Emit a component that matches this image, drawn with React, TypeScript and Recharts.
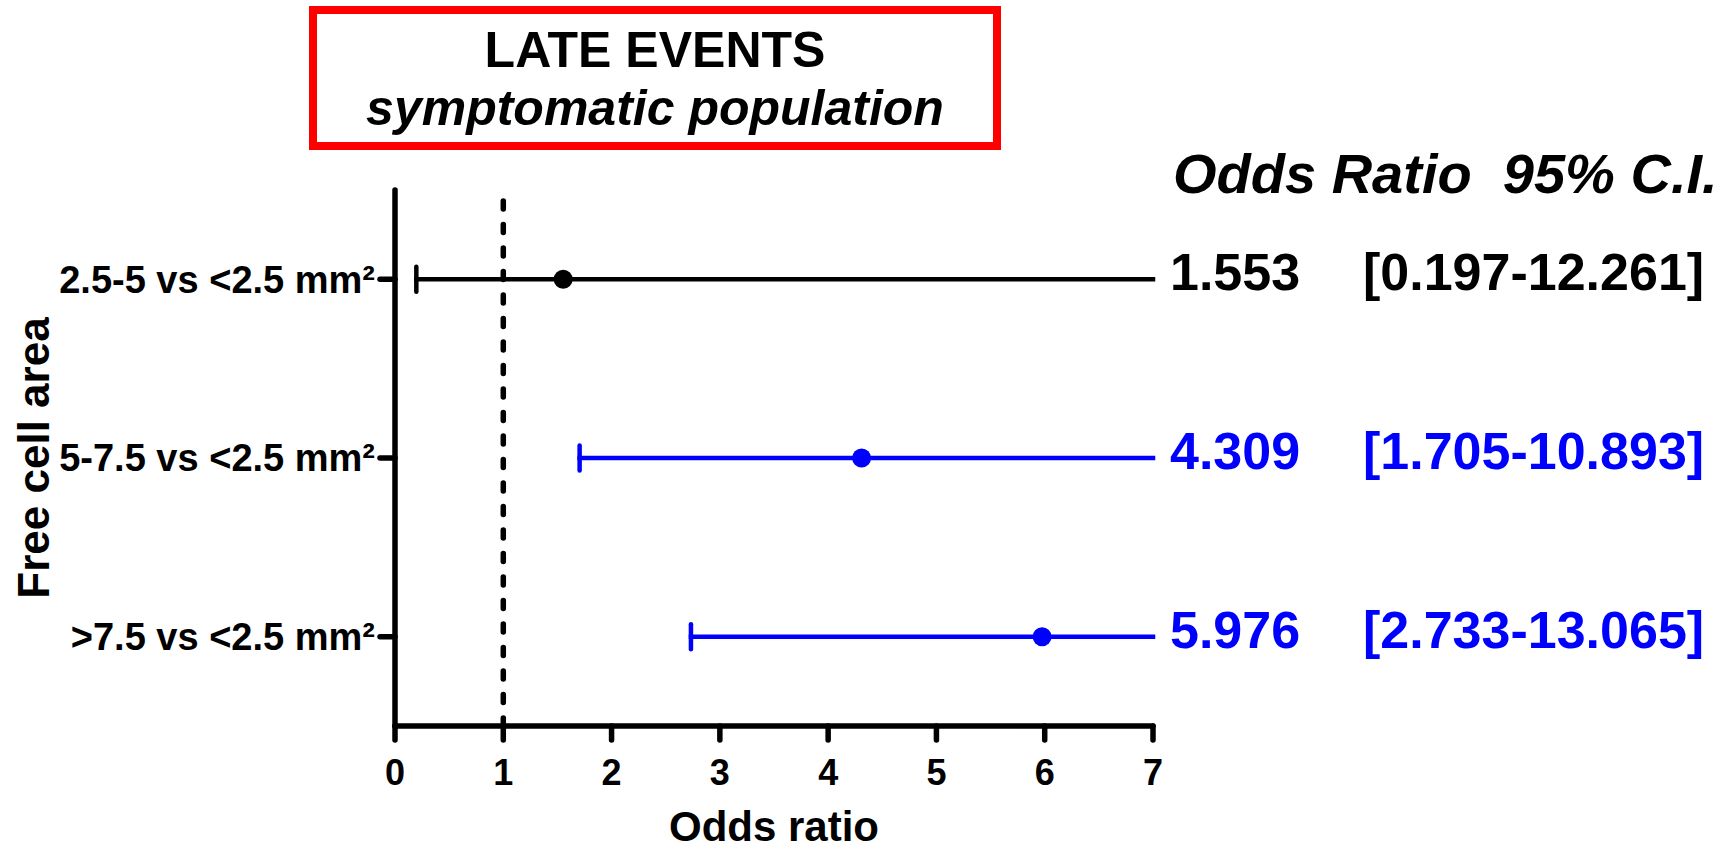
import React from "react";
import { ScatterChart, Scatter, XAxis, YAxis, ReferenceLine } from "recharts";

// ---- data ----
const categories = ["2.5-5 vs <2.5 mm²", "5-7.5 vs <2.5 mm²", ">7.5 vs <2.5 mm²"];
const rowIds = [1, 2, 3];
const oddsRatios = [1.553, 4.309, 5.976];
const ciLower = [0.197, 1.705, 2.733];
const ciUpper = [12.261, 10.893, 13.065];
const orLabels = ["1.553", "4.309", "5.976"];
const ciLabels = ["[0.197-12.261]", "[1.705-10.893]", "[2.733-13.065]"];
const rowColors = ["#000000", "#0000ff", "#0000ff"];
const xTicks = [0, 1, 2, 3, 4, 5, 6, 7];
const xDomain: [number, number] = [0, 7];
const titleLine1 = "LATE EVENTS";
const titleLine2 = "symptomatic population";
const headerText = "Odds Ratio  95% C.I.";
const xLabel = "Odds ratio";
const yLabel = "Free cell area";

const FONT = '"Liberation Sans", Arial, Helvetica, sans-serif';

const pointData = rowIds.map((id, i) => ({
  x: oddsRatios[i],
  y: id,
  color: rowColors[i],
  orText: orLabels[i],
  ciText: ciLabels[i],
}));

const ciData = rowIds.map((id, i) => [
  { x: ciLower[i], y: id, end: "lo" },
  { x: Math.min(ciUpper[i], xDomain[1]), y: id, end: "hi" },
]);

const CapShape = (color: string) => (props: any) => {
  const { cx, cy, payload } = props;
  if (payload && payload.end === "lo") {
    return (
      <line x1={cx} x2={cx} y1={cy - 12.5} y2={cy + 12.5} stroke={color} strokeWidth={4.5} strokeLinecap="round" />
    );
  }
  return <g />;
};

const PointShape = (props: any) => {
  const { cx, cy, payload } = props;
  return (
    <g>
      <circle cx={cx} cy={cy} r={9.5} fill={payload.color} />
      <text x={1170} y={cy + 11} fontSize={52} fontWeight="bold" fill={payload.color} fontFamily={FONT}>
        {payload.orText}
      </text>
      <text x={1363} y={cy + 11} fontSize={52} fontWeight="bold" fill={payload.color} fontFamily={FONT}>
        {payload.ciText}
      </text>
    </g>
  );
};

export default function App() {
  return (
    <div style={{ position: "absolute", left: 0, top: 0, width: 1724, height: 850, fontFamily: FONT, background: "#fff" }}>
      <ScatterChart width={1724} height={850} margin={{ top: 190, right: 571, bottom: 0, left: 0 }}>
        <XAxis
          type="number"
          dataKey="x"
          domain={xDomain}
          ticks={xTicks}
          height={124}
          interval={0}
          axisLine={{ stroke: "#000", strokeWidth: 5.5, strokeLinecap: "round" }}
          tickLine={{ stroke: "#000", strokeWidth: 5.5, strokeLinecap: "round" }}
          tickSize={14}
          tickMargin={19}
          tick={{ fontSize: 36, fontWeight: "bold", fill: "#000" }}
          label={{
            value: xLabel,
            position: "insideBottom",
            offset: 9,
            style: { fontSize: 42, fontWeight: "bold", fill: "#000" },
          }}
        />
        <YAxis
          type="number"
          dataKey="y"
          domain={[0.5, 3.5]}
          reversed
          ticks={rowIds}
          interval={0}
          width={395}
          tickFormatter={(v: number) => categories[v - 1]}
          axisLine={{ stroke: "#000", strokeWidth: 5.5, strokeLinecap: "round" }}
          tickLine={{ stroke: "#000", strokeWidth: 5.5, strokeLinecap: "round" }}
          tickSize={15}
          tickMargin={5}
          tick={{ fontSize: 38, fontWeight: "bold", fill: "#000" }}
          label={{
            value: yLabel,
            angle: -90,
            position: "insideLeft",
            offset: 33,
            style: { fontSize: 44, fontWeight: "bold", fill: "#000", textAnchor: "middle" },
          }}
        />
        <ReferenceLine
          x={1}
          stroke="#000"
          strokeWidth={5.5}
          strokeDasharray="8 15.5"
          strokeLinecap="round"
        />
        {ciData.map((d, i) => (
          <Scatter
            key={"ci" + i}
            data={d}
            line={{ stroke: rowColors[i], strokeWidth: 4.5, strokeLinecap: "square" }}
            shape={CapShape(rowColors[i])}
            isAnimationActive={false}
          />
        ))}
        <Scatter data={pointData} shape={PointShape} isAnimationActive={false} />
      </ScatterChart>
      <svg
        width={1724}
        height={850}
        style={{ position: "absolute", left: 0, top: 0, pointerEvents: "none", fontFamily: FONT }}
      >
        <rect x={313} y={10} width={684} height={136} fill="none" stroke="#ff0000" strokeWidth={8} />
        <text x={655} y={67} textAnchor="middle" fontSize={50} fontWeight="bold" fill="#000">
          {titleLine1}
        </text>
        <text x={655} y={125} textAnchor="middle" fontSize={50} fontWeight="bold" fontStyle="italic" fill="#000">
          {titleLine2}
        </text>
        <text
          x={1173}
          y={193}
          fontSize={56}
          fontWeight="bold"
          fontStyle="italic"
          fill="#000"
          xmlSpace="preserve"
          style={{ whiteSpace: "pre" }}
        >
          {headerText}
        </text>
      </svg>
    </div>
  );
}
